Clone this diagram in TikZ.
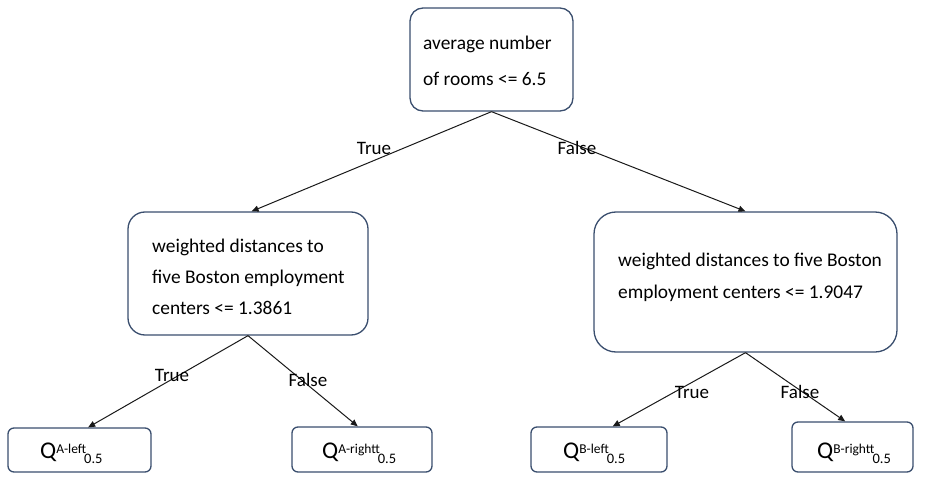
\documentclass[tikz,border=0pt]{standalone}
\usepackage{fontspec}
\setmainfont{Carlito}
\usetikzlibrary{arrows.meta,calc}
\definecolor{bordercol}{RGB}{58,78,110}
\definecolor{linecol}{RGB}{25,25,25}
\begin{document}
\begin{tikzpicture}[x=1pt,y=-1pt,
  box/.style={draw=bordercol, line width=1.3pt, rounded corners=#1, inner sep=0pt, fill=white},
  txt/.style={inner sep=0pt, anchor=west, align=left},
  lbl/.style={inner sep=0pt, font=\fontsize{19}{23}\selectfont},
  arr/.style={draw=linecol, line width=1pt, -{Triangle[length=7pt,width=6pt]}},
  leaf/.style={inner sep=0pt, anchor=base west, font=\fontsize{24}{28}\selectfont}
]
\useasboundingbox (0,0) rectangle (936,489);
\newcommand{\qlabel}[2]{Q\raisebox{5pt}{\fontsize{13.5}{15}\selectfont #1-#2}\kern-2pt\raisebox{-5pt}{\fontsize{14.5}{16}\selectfont 0.5}}

% boxes
\node[box=13pt, minimum width=163pt, minimum height=103pt] (top) at (491.5,59.5) {};
\node[box=17pt, minimum width=240pt, minimum height=123pt] (L) at (248,273.5) {};
\node[box=22pt, minimum width=303pt, minimum height=140pt] (R) at (745.5,282) {};
\node[box=6pt, minimum width=143pt, minimum height=44pt] (AL) at (79.5,450) {};
\node[box=6pt, minimum width=140pt, minimum height=45pt] (AR) at (362,449.5) {};
\node[box=6pt, minimum width=136pt, minimum height=45pt] (BL) at (599,449.5) {};
\node[box=6pt, minimum width=121pt, minimum height=50pt] (BR) at (852.5,447) {};

% texts
\node[txt, font=\fontsize{19.4}{36}\selectfont] (toptxt) at (423,61) {average number\\of rooms <= 6.5};
\node[txt, font=\fontsize{19.4}{31}\selectfont] (Ltxt) at (152,277) {weighted distances to\\five Boston employment\\centers <= 1.3861};
\node[txt, font=\fontsize{19.4}{32}\selectfont] (Rtxt) at (618,277) {weighted distances to five Boston\\employment centers <= 1.9047};
\node[leaf] (ALtxt) at (40,458) {\qlabel{A}{left}};
\node[leaf] (ARtxt) at (322,458) {\qlabel{A}{rightt}};
\node[leaf] (BLtxt) at (563,458) {\qlabel{B}{left}};
\node[leaf] (BRtxt) at (817,458) {\qlabel{B}{rightt}};

% connectors
\draw[arr] (top.south) -- ($(L.north west)!0.515!(L.north east)$);
\draw[arr] (top.south) -- (R.north);
\draw[arr] (L.south) -- ($(AL.north west)!0.56!(AL.north east)$);
\draw[arr] (L.south) -- ($(AR.north west)!0.47!(AR.north east)$);
\draw[arr] (R.south) -- ($(BL.north west)!0.60!(BL.north east)$);
\draw[arr] (R.south) -- ($(BR.north west)!0.44!(BR.north east)$);

% edge labels
\node[lbl] (t1) at (374,148) {True};
\node[lbl] (f1) at (577,148) {False};
\node[lbl] (t2) at (172,375) {True};
\node[lbl] (f2) at (308,380) {False};
\node[lbl] (t3) at (692,392) {True};
\node[lbl] (f3) at (800,392) {False};
\end{tikzpicture}
\end{document}
